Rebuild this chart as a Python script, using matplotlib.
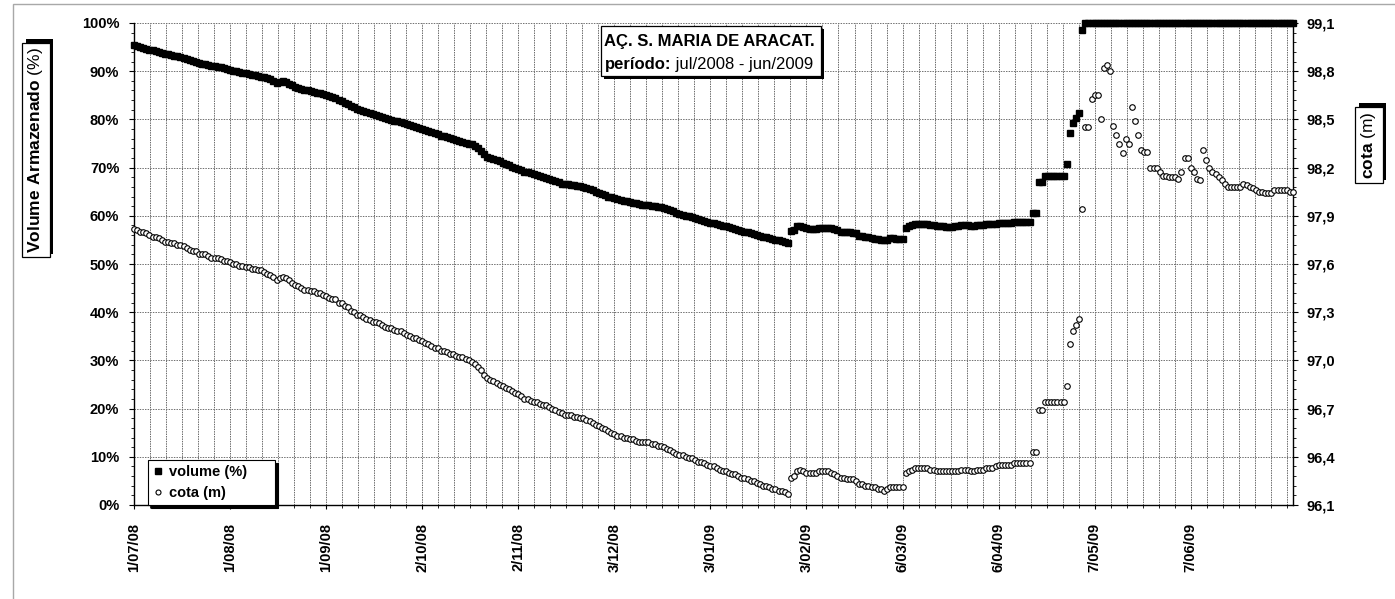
import matplotlib
matplotlib.use('Agg')
import matplotlib.pyplot as plt
from matplotlib import patheffects
from matplotlib.patches import Rectangle
from matplotlib.text import Annotation
from matplotlib.ticker import MultipleLocator, AutoMinorLocator, FuncFormatter
import numpy as np

# daily readings, day 0 = 1/07/2008
volume = [
    95.4, 95.2, 95.0, 94.9, 94.7, 94.5, 94.3, 94.2, 94.0, 93.8,
    93.6, 93.5, 93.3, 93.2, 93.1, 92.9, 92.7, 92.5, 92.3, 92.1,
    91.9, 91.6, 91.5, 91.4, 91.3, 91.1, 91.0, 90.9, 90.8, 90.6,
    90.4, 90.2, 90.1, 90.0, 89.8, 89.7, 89.6, 89.4, 89.3, 89.2,
    89.0, 88.9, 88.7, 88.5, 88.3, 87.9, 87.5, 87.8, 88.0, 87.7,
    87.4, 87.1, 86.8, 86.6, 86.3, 86.1, 86.0, 85.8, 85.7, 85.5,
    85.4, 85.2, 85.1, 84.8, 84.6, 84.4, 84.1, 83.9, 83.5, 83.2,
    82.8, 82.5, 82.1, 81.9, 81.7, 81.5, 81.3, 81.1, 80.9, 80.7,
    80.5, 80.3, 80.1, 79.9, 79.7, 79.6, 79.4, 79.2, 79.0, 78.8,
    78.6, 78.4, 78.2, 78.0, 77.8, 77.6, 77.3, 77.1, 76.9, 76.6,
    76.5, 76.3, 76.1, 75.9, 75.8, 75.6, 75.4, 75.2, 75.0, 74.8,
    74.5, 74.0, 73.4, 72.8, 72.3, 72.0, 71.8, 71.5, 71.3, 71.0,
    70.8, 70.5, 70.2, 70.0, 69.7, 69.4, 69.1, 69.0, 68.8, 68.6,
    68.5, 68.3, 68.1, 67.9, 67.7, 67.5, 67.3, 67.0, 66.7, 66.6,
    66.5, 66.4, 66.3, 66.2, 66.1, 66.0, 65.8, 65.5, 65.3, 65.0,
    64.8, 64.5, 64.3, 64.0, 63.8, 63.6, 63.4, 63.3, 63.1, 63.0,
    62.9, 62.7, 62.6, 62.4, 62.3, 62.2, 62.2, 62.1, 62.0, 61.9,
    61.8, 61.6, 61.4, 61.1, 60.9, 60.6, 60.4, 60.2, 60.0, 59.9,
    59.7, 59.5, 59.4, 59.2, 59.0, 58.8, 58.6, 58.5, 58.3, 58.1,
    57.9, 57.8, 57.6, 57.4, 57.2, 57.0, 56.9, 56.7, 56.6, 56.4,
    56.2, 56.0, 55.8, 55.6, 55.5, 55.3, 55.1, 55.0, 54.9, 54.8,
    54.6, 54.4, 56.9, 57.0, 57.8, 57.9, 57.7, 57.5, 57.3, 57.3,
    57.3, 57.4, 57.5, 57.5, 57.5, 57.4, 57.2, 57.0, 56.7, 56.7,
    56.6, 56.6, 56.5, 56.4, 55.9, 55.8, 55.6, 55.5, 55.3, 55.2,
    55.1, 55.0, 55.0, 55.0, 55.4, 55.3, 55.2, 55.2, 55.2, 57.4,
    57.8, 58.1, 58.3, 58.4, 58.4, 58.4, 58.3, 58.1, 58.0, 57.9,
    57.8, 57.8, 57.7, 57.7, 57.7, 57.8, 57.9, 58.0, 58.1, 58.0,
    57.9, 57.9, 58.0, 58.1, 58.1, 58.2, 58.2, 58.2, 58.4, 58.5,
    58.5, 58.5, 58.6, 58.6, 58.7, 58.7, 58.7, 58.7, 58.7, 58.7,
    60.5, 60.5, 67.0, 67.0, 68.3, 68.3, 68.3, 68.3, 68.3, 68.3,
    68.3, 70.7, 77.2, 79.2, 80.2, 81.3, 98.5, 100, 100, 100,
    100, 100, 100, 100, 100, 100, 100, 100, 100, 100,
    100, 100, 100, 100, 100, 100, 100, 100, 100, 100,
    100, 100, 100, 100, 100, 100, 100, 100, 100, 100,
    100, 100, 100, 100, 100, 100, 100, 100, 100, 100,
    100, 100, 100, 100, 100, 100, 100, 100, 100, 100,
    100, 100, 100, 100, 100, 100, 100, 100, 100, 100,
    100, 100, 100, 100, 100,
]

cota = [
    97.82, 97.81, 97.80, 97.80, 97.79, 97.78, 97.77, 97.77, 97.76, 97.75,
    97.74, 97.74, 97.73, 97.73, 97.72, 97.72, 97.71, 97.70, 97.69, 97.68,
    97.68, 97.66, 97.66, 97.66, 97.65, 97.64, 97.64, 97.64, 97.63, 97.62,
    97.62, 97.61, 97.60, 97.60, 97.59, 97.59, 97.58, 97.58, 97.57, 97.57,
    97.56, 97.56, 97.55, 97.54, 97.53, 97.52, 97.50, 97.51, 97.52, 97.51,
    97.50, 97.48, 97.47, 97.46, 97.45, 97.44, 97.44, 97.43, 97.43, 97.42,
    97.42, 97.41, 97.40, 97.39, 97.38, 97.38, 97.36, 97.36, 97.34, 97.33,
    97.31, 97.30, 97.28, 97.28, 97.27, 97.26, 97.25, 97.24, 97.24, 97.23,
    97.22, 97.21, 97.20, 97.20, 97.19, 97.18, 97.18, 97.17, 97.16, 97.15,
    97.14, 97.14, 97.13, 97.12, 97.11, 97.10, 97.09, 97.08, 97.08, 97.06,
    97.06, 97.05, 97.04, 97.04, 97.03, 97.02, 97.02, 97.01, 97.00, 96.99,
    96.98, 96.96, 96.94, 96.91, 96.89, 96.88, 96.87, 96.86, 96.85, 96.84,
    96.83, 96.82, 96.81, 96.80, 96.79, 96.78, 96.76, 96.76, 96.75, 96.74,
    96.74, 96.73, 96.72, 96.72, 96.71, 96.70, 96.69, 96.68, 96.67, 96.66,
    96.66, 96.66, 96.65, 96.65, 96.64, 96.64, 96.63, 96.62, 96.61, 96.60,
    96.59, 96.58, 96.57, 96.56, 96.55, 96.54, 96.53, 96.53, 96.52, 96.52,
    96.51, 96.51, 96.50, 96.49, 96.49, 96.49, 96.49, 96.48, 96.48, 96.47,
    96.47, 96.46, 96.45, 96.44, 96.43, 96.42, 96.41, 96.41, 96.40, 96.39,
    96.39, 96.38, 96.37, 96.37, 96.36, 96.35, 96.34, 96.34, 96.33, 96.32,
    96.31, 96.31, 96.30, 96.29, 96.29, 96.28, 96.27, 96.27, 96.26, 96.25,
    96.25, 96.24, 96.23, 96.22, 96.22, 96.21, 96.20, 96.20, 96.19, 96.19,
    96.18, 96.17, 96.27, 96.28, 96.31, 96.32, 96.31, 96.30, 96.30, 96.30,
    96.30, 96.31, 96.31, 96.31, 96.31, 96.30, 96.29, 96.28, 96.27, 96.27,
    96.26, 96.26, 96.26, 96.25, 96.23, 96.23, 96.22, 96.22, 96.21, 96.21,
    96.20, 96.20, 96.19, 96.20, 96.21, 96.21, 96.21, 96.21, 96.21, 96.30,
    96.31, 96.32, 96.33, 96.33, 96.33, 96.33, 96.33, 96.32, 96.32, 96.31,
    96.31, 96.31, 96.31, 96.31, 96.31, 96.31, 96.31, 96.32, 96.32, 96.32,
    96.31, 96.31, 96.32, 96.32, 96.32, 96.33, 96.33, 96.33, 96.34, 96.35,
    96.35, 96.35, 96.35, 96.35, 96.36, 96.36, 96.36, 96.36, 96.36, 96.36,
    96.43, 96.43, 96.69, 96.69, 96.74, 96.74, 96.74, 96.74, 96.74, 96.74,
    96.74, 96.84, 97.10, 97.18, 97.22, 97.26, 97.94, 98.45, 98.45, 98.63,
    98.65, 98.65, 98.50, 98.82, 98.84, 98.80, 98.46, 98.40, 98.35, 98.29,
    98.38, 98.35, 98.58, 98.49, 98.40, 98.31, 98.30, 98.30, 98.20, 98.20,
    98.20, 98.17, 98.15, 98.15, 98.14, 98.14, 98.14, 98.13, 98.17, 98.26,
    98.26, 98.20, 98.17, 98.13, 98.12, 98.31, 98.25, 98.20, 98.17, 98.16,
    98.14, 98.12, 98.10, 98.08, 98.08, 98.08, 98.08, 98.08, 98.10, 98.09,
    98.08, 98.07, 98.06, 98.05, 98.05, 98.04, 98.04, 98.04, 98.06, 98.06,
    98.06, 98.06, 98.06, 98.05, 98.05,
]

xtick_labels = ['1/07/08', '1/08/08', '1/09/08', '2/10/08', '2/11/08', '3/12/08',
                '3/01/09', '3/02/09', '6/03/09', '6/04/09', '7/05/09', '7/06/09']
tick_step = 31  # days between labelled dates

plt.rcParams['font.family'] = ['Liberation Sans', 'DejaVu Sans']
plt.rcParams['font.weight'] = 'bold'
plt.rcParams['mathtext.fontset'] = 'custom'
plt.rcParams['mathtext.rm'] = 'Liberation Sans'
plt.rcParams['mathtext.bf'] = 'Liberation Sans:bold'

W, H = 1395, 599
fig = plt.figure(figsize=(W / 100, H / 100), dpi=100)
ax = fig.add_axes([134 / W, 1 - 505 / H, (1293 - 134) / W, (505 - 23) / H])
ax2 = ax.twinx()

days_v = np.arange(len(volume))
days_c = np.arange(len(cota))
h1, = ax.plot(days_v, volume, ls='none', marker='s', ms=4.9, color='black',
              mec='black', clip_on=False, zorder=3)
h2, = ax2.plot(days_c, cota, ls='none', marker='o', ms=4.0, mfc='white',
               mec='black', mew=0.8, clip_on=False, zorder=3)

ax.set_xlim(0, len(volume) - 1)
ax.set_ylim(0, 100)
ax2.set_ylim(96.1, 99.1)

# x axis
ax.set_xticks(np.arange(len(xtick_labels)) * tick_step, labels=xtick_labels, rotation=90)
ax.xaxis.set_minor_locator(MultipleLocator(tick_step / 6))
ax.tick_params(axis='x', which='major', length=3, width=0.8, pad=10, labelsize=10.5)
ax.tick_params(axis='x', which='minor', length=2.5, width=0.6)

# left axis
ax.yaxis.set_major_locator(MultipleLocator(10))
ax.yaxis.set_minor_locator(AutoMinorLocator(5))
ax.yaxis.set_major_formatter(FuncFormatter(lambda v, p: f'{v:.0f}%'))
ax.tick_params(axis='y', which='major', length=3.6, width=0.8, pad=7, labelsize=10.5)
ax.tick_params(axis='y', which='minor', length=2, width=0.6)

# right axis
ax2.set_yticks(np.round(np.arange(96.1, 99.15, 0.3), 1))
ax2.yaxis.set_minor_locator(AutoMinorLocator(5))
ax2.yaxis.set_major_formatter(FuncFormatter(lambda v, p: f'{v:.1f}'.replace('.', ',')))
ax2.tick_params(axis='y', which='major', length=3.6, width=0.8, pad=6, labelsize=10.5)
ax2.tick_params(axis='y', which='minor', length=2.2, width=0.6)

for a in (ax, ax2):
    a.spines['top'].set_visible(False)
    for s in a.spines.values():
        s.set_linewidth(1)
ax.spines['right'].set_visible(False)
ax2.spines['left'].set_visible(False)
ax2.spines['bottom'].set_visible(False)

ax.set_axisbelow(True)
ax.grid(axis='y', which='major', color='#707070', lw=0.7, ls=(0, (1.5, 1.2)))
ax.grid(axis='x', which='both', color='#6a6a6a', lw=0.7, ls=(0, (1.5, 1)))

# legend
leg = ax2.legend([h1, h2], ['volume (%)', 'cota (m)'], loc='lower left',
                 bbox_to_anchor=(14 / 1159, 0.0, 127 / 1159, 0.1), mode='expand',
                 borderaxespad=0, fancybox=False, shadow={'color': 'black', 'alpha': 1},
                 edgecolor='black', framealpha=1, handlelength=0.7, handletextpad=0.4,
                 labelspacing=0.45, borderpad=0.35, prop={'weight': 'bold', 'size': 10.5},
                 markerscale=0.9)
leg.get_frame().set_linewidth(0.8)


def px_rect(x0, y0, x1, y1, **kw):
    # rectangle given in figure pixels, origin top-left
    return Rectangle((x0 / W, 1 - y1 / H), (x1 - x0) / W, (y1 - y0) / H,
                     transform=fig.transFigure, **kw)


# title box with shadow
fig.add_artist(px_rect(604, 29, 824, 79, fc='black', ec='none'))
fig.add_artist(px_rect(601, 26, 821, 76, fc='white', ec='black', lw=0.9))
fig.text(604.5 / W, 1 - 41.5 / H, 'AÇ. S. MARIA DE ARACAT.', ha='left', va='center',
         fontsize=12, fontweight='bold')
t2a = fig.text(604.5 / W, 1 - 65 / H, 'período:', ha='left', va='center',
               fontsize=12, fontweight='bold')
t2b = Annotation(' jul/2008 - jun/2009', xy=(1, 0), xycoords=t2a, ha='left', va='bottom',
                 fontsize=12, fontweight='normal', zorder=4)
fig.add_artist(t2b)


def shadow_box(t, dx, dy):
    t.get_bbox_patch().set_path_effects([
        patheffects.withSimplePatchShadow(offset=(dx, dy), shadow_rgbFace='black', alpha=1.0)])


box = dict(boxstyle='square,pad=0.25', fc='white', ec='black', lw=0.9)

ylab = fig.text(36 / W, 1 - 150 / H, r'$\mathbf{Volume\ Armazenado}$ (%)', rotation=90,
                ha='center', va='center', fontsize=12.5, fontweight='normal', bbox=box)
shadow_box(ylab, 2.5, 2.5)

ylab2 = fig.text(1369 / W, 1 - 145 / H, r'$\mathbf{cota}$ (m)', rotation=90,
                 ha='center', va='center', fontsize=12.5, fontweight='normal', bbox=box)
shadow_box(ylab2, 2.5, 2.5)

# outer chart border
fig.add_artist(Rectangle((13 / W, -0.1), 1.2, 1.1 - 4 / H, transform=fig.transFigure,
                         fill=False, ec='#a8a8a8', lw=1))

fig.savefig('out.png', dpi=100)
